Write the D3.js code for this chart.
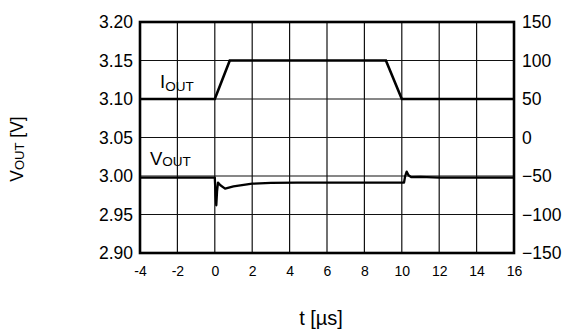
<!DOCTYPE html>
<html><head><meta charset="utf-8">
<script src="https://cdn.jsdelivr.net/npm/d3@7"></script>
<style>
html,body{margin:0;padding:0;background:#fff;}
svg{display:block;font-family:"Liberation Sans",Arial,sans-serif;}
</style></head>
<body><svg id="c" width="564" height="334"></svg>
<script>
// Data
const xTicks = [-4,-2,0,2,4,6,8,10,12,14,16];
const leftTicks = [2.90,2.95,3.00,3.05,3.10,3.15,3.20];
const rightTicks = [-150,-100,-50,0,50,100,150];
const ioutT = [-4, 0, 0.8, 9.15, 10.0, 16];
const ioutV = [50, 50, 100, 100, 50, 50];
const voutT = [-4, 0.0, 0.04, 0.08, 0.12, 0.17, 0.3, 0.55, 1.0, 2.0, 3.0, 4.4, 6, 10.12, 10.18, 10.26, 10.36, 10.5, 11.0, 12.0, 16];
const voutV = [2.998, 2.998, 2.975, 2.962, 2.980, 2.9914, 2.988, 2.9836, 2.9865, 2.990, 2.991, 2.9914, 2.9915, 2.9915, 3.000, 3.0057, 3.001, 2.9985, 2.9988, 2.998, 2.998];

const svg = d3.select("#c");
const L = 140, R = 514, T = 22, B = 253;
const x = d3.scaleLinear().domain([-4,16]).range([L,R]);
const yL = d3.scaleLinear().domain([2.90,3.20]).range([B,T]);
const yR = d3.scaleLinear().domain([-150,150]).range([B,T]);

// grid
const g = svg.append("g");
g.selectAll(".vg").data(xTicks.slice(1,-1)).join("line")
  .attr("x1",d=>x(d)).attr("x2",d=>x(d)).attr("y1",T).attr("y2",B)
  .attr("stroke","#111").attr("stroke-width",1.2);
g.selectAll(".hg").data(leftTicks.slice(1,-1)).join("line")
  .attr("x1",L).attr("x2",R).attr("y1",d=>yL(d)).attr("y2",d=>yL(d))
  .attr("stroke","#111").attr("stroke-width",1.2);

// data lines
const iLine = d3.line().x((d,i)=>x(ioutT[i])).y(d=>yR(d));
svg.append("path").attr("d", iLine(ioutV)).attr("fill","none")
  .attr("stroke","#000").attr("stroke-width",2.6).attr("stroke-linejoin","miter");
const vLine = d3.line().x((d,i)=>x(voutT[i])).y(d=>yL(d));
svg.append("path").attr("d", vLine(voutV)).attr("fill","none")
  .attr("stroke","#000").attr("stroke-width",2.3).attr("stroke-linejoin","round");

// border
svg.append("rect").attr("x",L).attr("y",T).attr("width",R-L).attr("height",B-T)
  .attr("fill","none").attr("stroke","#000").attr("stroke-width",2.6);

// axes (tick labels only)
const axL = d3.axisLeft(yL).tickValues(leftTicks).tickFormat(d3.format(".2f")).tickSize(0).tickPadding(7);
svg.append("g").attr("transform",`translate(${L},0)`).call(axL)
  .call(s=>s.select(".domain").remove())
  .selectAll("text").attr("font-size",17.5).attr("fill","#000").attr("font-family","Liberation Sans, Arial, sans-serif");
const axR = d3.axisRight(yR).tickValues(rightTicks).tickFormat(d=>d<0?"\u2212"+Math.abs(d):String(d)).tickSize(0).tickPadding(8);
svg.append("g").attr("transform",`translate(${R},0)`).call(axR)
  .call(s=>s.select(".domain").remove())
  .selectAll("text").attr("font-size",17.5).attr("fill","#000").attr("font-family","Liberation Sans, Arial, sans-serif");
const axB = d3.axisBottom(x).tickValues(xTicks).tickFormat(d=>d<0?"-"+Math.abs(d):String(d)).tickSize(0).tickPadding(13);
svg.append("g").attr("transform",`translate(0,${B})`).call(axB)
  .call(s=>s.select(".domain").remove())
  .selectAll("text").attr("font-size",14).attr("fill","#000").attr("font-family","Liberation Sans, Arial, sans-serif");

// labels inside
const t1 = svg.append("text").attr("x",160).attr("y",88).attr("font-size",18.5);
t1.append("tspan").text("I");
t1.append("tspan").attr("font-size",13.5).attr("dy",3).text("OUT");
const t2 = svg.append("text").attr("x",150).attr("y",165).attr("font-size",18.5);
t2.append("tspan").text("V");
t2.append("tspan").attr("font-size",13.5).attr("dy",1).text("OUT");

// axis titles
const yt = svg.append("text").attr("transform","translate(23,149) rotate(-90)")
  .attr("text-anchor","middle").attr("font-size",17.5);
yt.append("tspan").text("V");
yt.append("tspan").attr("font-size",13).attr("dy",1).text("OUT");
yt.append("tspan").attr("dy",-1).text(" [V]");
svg.append("text").attr("x",321).attr("y",325).attr("text-anchor","middle")
  .attr("font-size",20).text("t [\u00b5s]");
</script></body></html>
